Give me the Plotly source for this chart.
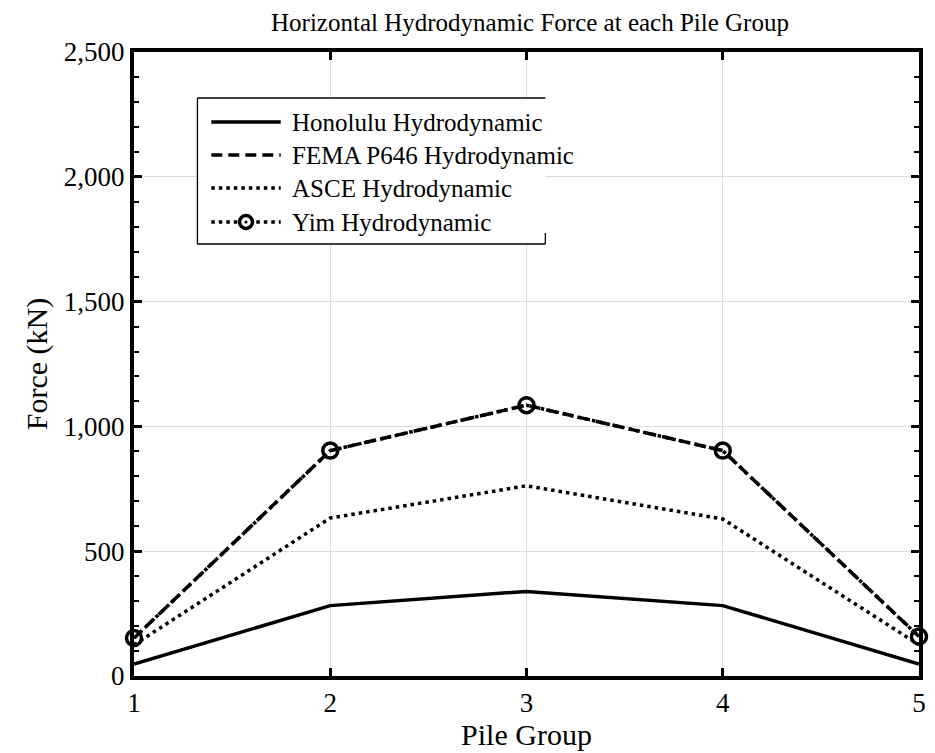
import plotly.graph_objects as go

# Pile groups along the structure
pile_groups = [1, 2, 3, 4, 5]

# Horizontal hydrodynamic force (kN) by method
honolulu = [48, 282, 339, 282, 48]
fema_p646 = [152, 903, 1085, 903, 158]
asce = [125, 633, 762, 629, 125]
yim = [152, 903, 1085, 903, 158]

series_names = ["Honolulu Hydrodynamic", "FEMA P646 Hydrodynamic",
                "ASCE Hydrodynamic", "Yim Hydrodynamic"]

y_ticks = [0, 500, 1000, 1500, 2000, 2500]
y_tick_text = ["0", "500", "1,000", "1,500", "2,000", "2,500"]

FONT = "Liberation Serif, Times New Roman, serif"
W, H = 935, 753
L, R, T, B = 134, 9, 52, 77
PW, PH = W - L - R, H - T - B

DOT = "3.5px,4px"
DASH = "11px,6px"
LW = 3.5

fig = go.Figure()
fig.add_trace(go.Scatter(x=pile_groups, y=honolulu, mode="lines", name=series_names[0],
                         line=dict(color="black", width=LW)))
fig.add_trace(go.Scatter(x=pile_groups, y=fema_p646, mode="lines", name=series_names[1],
                         line=dict(color="black", width=LW, dash=DASH)))
fig.add_trace(go.Scatter(x=pile_groups, y=asce, mode="lines", name=series_names[2],
                         line=dict(color="black", width=LW, dash=DOT)))
fig.add_trace(go.Scatter(x=pile_groups, y=yim, mode="lines+markers", name=series_names[3],
                         line=dict(color="black", width=LW, dash=DOT),
                         marker=dict(symbol="circle-open", size=15,
                                     line=dict(color="black", width=3.5)),
                         cliponaxis=False))


def px_x(p):
    return (p - L) / PW


def px_y(p):
    return (H - B - p) / PH


# Legend panel in the upper left of the axes: white fill, then its border edges
box_l, box_r, box_t, box_b = 198, 549, 98, 244
shapes = [dict(type="rect", xref="paper", yref="paper",
               x0=px_x(box_l), x1=px_x(box_r), y0=px_y(box_b), y1=px_y(box_t),
               line=dict(width=0), fillcolor="white", layer="above")]
edge = dict(type="line", xref="paper", yref="paper",
            line=dict(color="black", width=1.3), layer="above")
shapes += [
    dict(edge, x0=px_x(box_l), x1=px_x(box_r), y0=px_y(box_t), y1=px_y(box_t)),
    dict(edge, x0=px_x(box_l), x1=px_x(box_r), y0=px_y(box_b), y1=px_y(box_b)),
    dict(edge, x0=px_x(box_l), x1=px_x(box_l), y0=px_y(box_b), y1=px_y(box_t)),
    dict(edge, x0=px_x(box_r), x1=px_x(box_r), y0=px_y(box_b), y1=px_y(box_b - 11)),
]
annotations = []
row_y = [122, 155, 188, 222]
dashes = ["solid", DASH, DOT, DOT]
for name, ry, d in zip(series_names, row_y, dashes):
    shapes.append(dict(type="line", xref="paper", yref="paper",
                       x0=px_x(212), x1=px_x(282), y0=px_y(ry), y1=px_y(ry),
                       line=dict(color="black", width=LW, dash=d), layer="above"))
    annotations.append(dict(xref="paper", yref="paper", x=px_x(291), y=px_y(ry),
                            text=name, showarrow=False, xanchor="left", yanchor="middle",
                            font=dict(family=FONT, size=25, color="black")))
shapes.append(dict(type="circle", xref="paper", yref="paper",
                   xsizemode="pixel", ysizemode="pixel",
                   xanchor=px_x(247), yanchor=px_y(row_y[3]),
                   x0=-6.5, x1=6.5, y0=-6.5, y1=6.5,
                   line=dict(color="black", width=3.5), fillcolor="white", layer="above"))
shapes.append(dict(type="circle", xref="paper", yref="paper",
                   xsizemode="pixel", ysizemode="pixel",
                   xanchor=px_x(247), yanchor=px_y(row_y[3]),
                   x0=-1.5, x1=1.5, y0=-1.5, y1=1.5,
                   line=dict(color="black", width=0), fillcolor="black", layer="above"))

axis_common = dict(showline=True, linecolor="black", linewidth=4, mirror="ticks",
                   ticks="inside", tickcolor="black", tickwidth=2.5, ticklen=8,
                   showgrid=True, gridcolor="#dcdcdc", gridwidth=1, zeroline=False,
                   tickfont=dict(family=FONT, size=27, color="black"))

fig.update_layout(
    width=W, height=H,
    margin=dict(l=L, r=R, t=T, b=B),
    paper_bgcolor="white", plot_bgcolor="white",
    showlegend=False,
    title=dict(text="Horizontal Hydrodynamic Force at each Pile Group",
               x=(L + PW / 2) / W, xanchor="center", y=1 - 22 / H, yanchor="middle",
               font=dict(family=FONT, size=25, color="black")),
    xaxis=dict(range=[1, 5], tickvals=pile_groups, ticktext=[str(v) for v in pile_groups],
               title=dict(text="Pile Group", font=dict(family=FONT, size=30, color="black"),
                          standoff=3),
               **axis_common),
    yaxis=dict(range=[0, 2500], tickvals=y_ticks, ticktext=y_tick_text,
               title=dict(text="Force (kN)", font=dict(family=FONT, size=30, color="black"),
                          standoff=8),
               minor=dict(dtick=100, ticks="inside", ticklen=5, tickcolor="black",
                          tickwidth=2, showgrid=False),
               **axis_common),
    shapes=shapes,
    annotations=annotations,
)

fig.write_html("out.html")
